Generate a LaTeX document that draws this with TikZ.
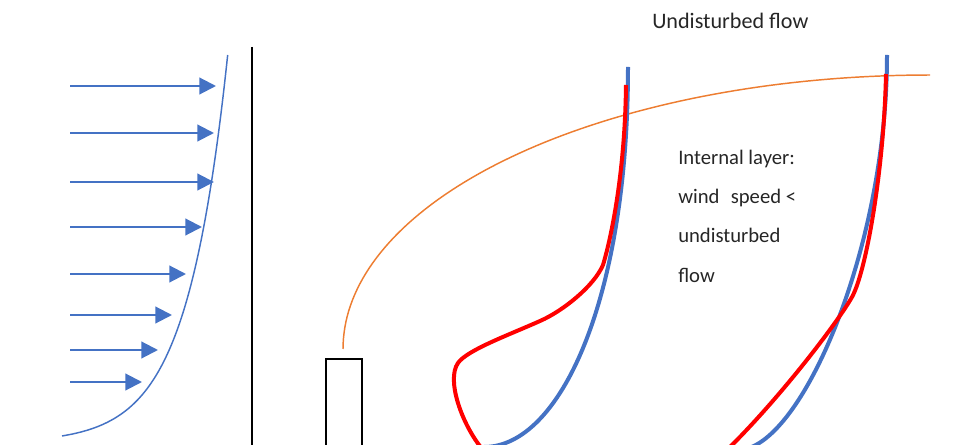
\documentclass[tikz,border=0pt]{standalone}
\usepackage{fontspec}
\setmainfont{Carlito}
\usetikzlibrary{arrows.meta}
\definecolor{pblue}{HTML}{4472C4}
\definecolor{porange}{HTML}{ED7D31}
\definecolor{pred}{HTML}{FF0000}
\tikzset{
  windarrow/.style={pblue, line width=1.6pt, -{Triangle[length=12.5pt,width=12.5pt]}},
  thinprofile/.style={pblue, line width=1.1pt},
  thickblue/.style={pblue, line width=3pt},
  thickred/.style={pred, line width=3pt},
  ibl/.style={porange, line width=1.1pt},
  lbl/.style={anchor=base west, inner sep=0pt, font=\fontsize{15.5pt}{18pt}\selectfont, text=black!85},
}
\begin{document}
\begin{tikzpicture}[x=0.75pt,y=-0.75pt]
\useasboundingbox (0,0) rectangle (975,445);
\clip (0,0) rectangle (975,445);
% left velocity profile (logarithmic)
\draw[thinprofile] plot[domain=0:381, samples=200, variable=\h] ({62+40.9*ln((\h+6.75)/6.75)},{436-\h});
\foreach \y/\tx [count=\i] in {86/216, 133/214, 182/214, 227/202, 274/186, 315/172, 350/158, 382/142} {
  \coordinate (s\i) at (70,\y);
  \coordinate (e\i) at (\tx,\y);
  \draw[windarrow] (s\i) -- (e\i);
}
% separator
\coordinate (sepT) at (252,47);
\coordinate (sepB) at (252,450);
\draw[black, line width=1.5pt] (sepT) -- (sepB);
% building
\draw[black, line width=2.2pt] (326,359) rectangle (362,470);
% internal boundary layer edge (quarter ellipse)
\draw[ibl] plot[domain=0:90, samples=80] ({930-587*cos(\x)},{349-274*sin(\x)});
% profile A
\draw[thickblue] (484,447) .. controls (560,447) and (628,300) .. (628,67);
\draw[thickred] (626,85) .. controls (625,170) and (612,235) .. (603,265)
  .. controls (594,286) and (563,311) .. (540,321)
  .. controls (510,334.5) and (467,350) .. (458,363)
  .. controls (446,380) and (462,425) .. (483,450);
% profile B
\draw[thickblue] (738,450) .. controls (800,450) and (887,250) .. (887,55);
\draw[thickred] (886,74) .. controls (884,170) and (866,272) .. (852,297)
  .. controls (838,322) and (780,398) .. (727,450);
% labels
\node[lbl, font=\fontsize{16.6pt}{20pt}\selectfont] (undist) at (652,28.3) {Undisturbed flow};
\node[lbl] (l1) at (678,165) {Internal layer:};
\node[lbl] (l2) at (678,204) {wind\hspace{5pt} speed <};
\node[lbl] (l3) at (678,243) {undisturbed};
\node[lbl] (l4) at (678,283) {flow};
\end{tikzpicture}
\end{document}
